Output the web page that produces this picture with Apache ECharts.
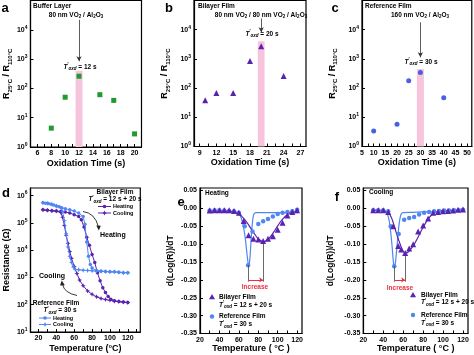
<!DOCTYPE html>
<html><head><meta charset="utf-8">
<script src="https://cdn.jsdelivr.net/npm/echarts@6.0.0/dist/echarts.min.js"></script>
<style>html,body{margin:0;padding:0;background:#fff}#c{width:474px;height:355px}</style>
</head><body><div id="c"></div>
<script>
// ---------------- data ----------------
// a: buffer layer
const aTime = [8, 10, 12, 15, 17, 20];
const aRatio = [4.4, 50, 260, 61, 39, 2.8];
// b: bilayer film
const bTime = [10, 12, 15, 18, 20, 24];
const bRatio = [38, 68, 68, 850, 2700, 260];
// c: reference film
const cTime = [10, 20, 25, 30, 40];
const cRatio = [3.4, 5.8, 180, 340, 47];

const aTicks = [6, 8, 10, 12, 14, 16, 18, 20];
const bTicks = [9, 12, 15, 18, 21, 24, 27];
const cTicks = [5, 10, 15, 20, 25, 30, 35, 40, 45, 50];
const tempTicks = [20, 40, 60, 80, 100, 120];
const derivTicks = [-0.35, -0.30, -0.25, -0.20, -0.15, -0.10, -0.05, 0.00, 0.05];

// highlighted optimum oxidation time: [from, to, bandTop], arrow [x, yStart, yEnd]
const aBand = [11.5, 12.5, 400];   const aArrow = [12, 22000, 850];
const bBand = [19.4, 20.6, 4000];  const bArrow = [20, 24000, 8100];
const cBand = [28.5, 31.5, 450];   const cArrow = [30, 17800, 1130];

// d: resistance vs temperature
const biHeatT = [25, 30, 35, 40, 45, 50, 55, 60, 65, 68, 71, 74, 77, 80, 83, 86, 89, 92, 95, 98, 101, 105, 110, 115, 120];
const biHeatR = [3.0e5, 2.9e5, 2.8e5, 2.7e5, 2.6e5, 2.5e5, 2.3e5, 2.0e5, 1.7e5, 1.3e5, 7e4, 3e4, 1.5e4, 7e3, 3.5e3, 1.5e3, 7.5e2, 4.2e2, 2.8e2, 2.0e2, 1.6e2, 1.4e2, 1.3e2, 1.25e2, 1.2e2];
const biCoolT = [120, 115, 110, 105, 100, 95, 90, 85, 80, 75, 70, 66, 63, 60, 57, 55, 53, 51, 49, 47, 45, 40, 35, 30, 25];
const biCoolR = [1.2e2, 1.25e2, 1.3e2, 1.35e2, 1.45e2, 1.55e2, 1.7e2, 1.95e2, 2.4e2, 3.2e2, 5e2, 8e2, 1.4e3, 2.5e3, 5e3, 9e3, 1.8e4, 3.5e4, 8e4, 1.6e5, 2.4e5, 2.7e5, 2.8e5, 2.9e5, 3.0e5];
const refHeatT = [25, 28, 31, 34, 37, 40, 43, 46, 50, 55, 60, 65, 70, 72, 74, 76, 78, 80, 85, 90, 95, 100, 105, 110, 115, 120];
const refHeatR = [5.5e5, 5.3e5, 5.1e5, 4.8e5, 4.5e5, 4.2e5, 3.9e5, 3.6e5, 3.3e5, 3.0e5, 2.7e5, 2.3e5, 1.7e5, 9e4, 2e4, 6e3, 3e3, 2.2e3, 1.8e3, 1.7e3, 1.65e3, 1.6e3, 1.6e3, 1.55e3, 1.5e3, 1.5e3];
const refCoolT = [120, 115, 110, 105, 100, 95, 90, 85, 80, 75, 70, 65, 61, 59, 57, 55, 53, 51, 49, 47, 45, 40, 35, 30, 25];
const refCoolR = [1.5e3, 1.5e3, 1.55e3, 1.6e3, 1.6e3, 1.65e3, 1.7e3, 1.7e3, 1.75e3, 1.8e3, 1.85e3, 1.9e3, 2.0e3, 2.4e3, 3.5e3, 6e3, 1.3e4, 4e4, 1.2e5, 2.6e5, 3.6e5, 4.2e5, 4.8e5, 5.2e5, 5.5e5];

// e: derivative, heating
const eBiT = [30, 35, 40, 45, 50, 55, 60, 65, 70, 75, 80, 85, 90, 95, 100, 105, 110, 115, 120];
const eBiV = [-0.006, -0.005, -0.005, -0.005, -0.005, -0.007, -0.012, -0.035, -0.075, -0.085, -0.087, -0.091, -0.085, -0.078, -0.060, -0.040, -0.020, -0.010, -0.005];
const eRefT = [30, 35, 40, 45, 50, 55, 60, 66, 69.5, 74, 80, 85, 90, 95, 100, 105, 110, 115, 120];
const eRefV = [-0.006, -0.005, -0.005, -0.006, -0.007, -0.008, -0.012, -0.050, -0.159, -0.065, -0.044, -0.036, -0.030, -0.023, -0.016, -0.012, -0.010, -0.008, -0.004];
const eBiFitT = [28, 35, 40, 45, 50, 55, 60, 65, 70, 75, 80, 85, 90, 95, 100, 105, 110, 115, 121];
const eBiFitV = [-0.007, -0.007, -0.007, -0.007, -0.008, -0.010, -0.016, -0.028, -0.046, -0.067, -0.085, -0.093, -0.087, -0.070, -0.049, -0.030, -0.017, -0.010, -0.008];
const eRefFitT = [28, 40, 50, 55, 58, 60, 62, 64, 66, 67, 68, 69, 70, 71, 72, 73, 74, 75, 76, 78, 80, 90, 100, 110, 121];
const eRefFitV = [-0.008, -0.008, -0.008, -0.009, -0.011, -0.015, -0.024, -0.042, -0.072, -0.093, -0.118, -0.142, -0.158, -0.150, -0.115, -0.072, -0.038, -0.020, -0.014, -0.012, -0.012, -0.012, -0.012, -0.012, -0.012];
const eMarks = [69.5, -0.159, 85, -0.093]; // minima used for the "Increase" marker

// f: derivative, cooling
const fBiT = [30, 35, 40, 45, 50, 55, 58, 62, 66, 70, 75, 80, 85, 90, 95, 100, 105, 110, 115, 120];
const fBiV = [-0.005, -0.005, -0.005, -0.010, -0.050, -0.105, -0.115, -0.125, -0.112, -0.100, -0.065, -0.048, -0.028, -0.012, -0.010, -0.008, -0.007, -0.006, -0.004, -0.003];
const fRefT = [30, 35, 40, 45, 47.5, 51, 55.5, 61, 66, 71, 76, 81, 86, 91, 96, 101, 106, 111, 116, 120];
const fRefV = [-0.005, -0.005, -0.005, -0.008, -0.050, -0.162, -0.072, -0.032, -0.027, -0.024, -0.017, -0.012, -0.010, -0.008, -0.007, -0.006, -0.006, -0.005, -0.005, -0.004];
const fBiFitT = [28, 35, 40, 45, 48, 50, 53, 55, 58, 60, 62, 65, 70, 75, 80, 85, 90, 95, 100, 110, 121];
const fBiFitV = [-0.005, -0.005, -0.006, -0.012, -0.025, -0.040, -0.068, -0.085, -0.108, -0.120, -0.125, -0.122, -0.105, -0.080, -0.053, -0.030, -0.015, -0.008, -0.006, -0.005, -0.005];
const fRefFitT = [28, 35, 40, 42, 44, 46, 47, 48, 49, 50, 51, 52, 53, 54, 55, 56, 57, 58, 60, 70, 80, 90, 100, 110, 121];
const fRefFitV = [-0.006, -0.006, -0.007, -0.009, -0.015, -0.035, -0.055, -0.080, -0.110, -0.145, -0.162, -0.155, -0.130, -0.100, -0.068, -0.042, -0.025, -0.016, -0.012, -0.011, -0.010, -0.010, -0.009, -0.008, -0.008];
const fMarks = [51, -0.162, 62, -0.125];

// ---------------- styling ----------------
const FONT = 'Liberation Sans, Arial, sans-serif';
const PURPLE = '#5a22b0';
const BLUE = '#4f86f2';
const GREEN = '#1f9a2e';
const PINK = '#f8c3dc';
const RED = '#e8313f';
const pts = (xs, ys) => xs.map((x, i) => [x, ys[i]]);
const STAR = 'path://M0,-10L3,-3L10,0L3,3L0,10L-3,3L-10,0L-3,-3Z';

function xAx(gi, o) {
  return Object.assign({
    type: 'value', gridIndex: gi,
    axisLine: {show: true, onZero: false, lineStyle: {color: '#000', width: 1.2}},
    axisTick: {show: true, inside: true, length: 3, lineStyle: {color: '#000', width: 1}, customValues: o.ticks},
    axisLabel: {color: '#000', fontSize: 7, fontWeight: 'bold', fontFamily: FONT, margin: 3, customValues: o.labels},
    splitLine: {show: false},
    nameLocation: 'middle', nameGap: o.gap,
    nameTextStyle: {color: '#000', fontSize: 9, fontWeight: 'bold', fontFamily: FONT}
  }, {min: o.min, max: o.max, name: o.name});
}
function yLog(gi, o) {
  return {
    type: 'log', logBase: 10, gridIndex: gi, min: o.min, max: o.max,
    axisLine: {show: true, lineStyle: {color: '#000', width: 1.2}},
    axisTick: {show: true, inside: true, length: 3, lineStyle: {color: '#000', width: 1}},
    axisLabel: {color: '#000', fontSize: 7, fontWeight: 'bold', fontFamily: FONT, margin: 3, showMaxLabel: false,
      lineHeight: 10,
      formatter: v => '10{s|' + Math.round(Math.log10(v)) + '}',
      rich: {s: {fontSize: 5, fontWeight: 'bold', fontFamily: FONT, verticalAlign: 'top'}}},
    splitLine: {show: false}, minorTick: {show: false},
    name: o.name, nameLocation: 'middle', nameGap: o.gap,
    nameTextStyle: {color: '#000', fontSize: 9, fontWeight: 'bold', fontFamily: FONT, lineHeight: 12,
      rich: {s: {fontSize: 6, fontWeight: 'bold', fontFamily: FONT, verticalAlign: 'bottom'}}}
  };
}
function yDer(gi, gap) {
  return {
    type: 'value', gridIndex: gi, min: -0.35, max: 0.057,
    axisLine: {show: true, lineStyle: {color: '#000', width: 1.2}},
    axisTick: {show: true, inside: true, length: 3, lineStyle: {color: '#000', width: 1}, customValues: derivTicks},
    axisLabel: {color: '#000', fontSize: 7, fontWeight: 'bold', fontFamily: FONT, margin: 3, customValues: derivTicks,
      formatter: v => v.toFixed(2)},
    splitLine: {show: false},
    name: 'd(Log(R))/dT', nameLocation: 'middle', nameGap: gap,
    nameTextStyle: {color: '#000', fontSize: 8.5, fontWeight: 'bold', fontFamily: FONT}
  };
}
const gridBase = {show: true, borderColor: '#000', borderWidth: 1.2, backgroundColor: 'transparent', containLabel: false};

const rName = 'R{s|25°C} / R{s|110°C}';

function bandSeries(idx, band, arrow) {
  return {
    type: 'line', xAxisIndex: idx, yAxisIndex: idx, data: [], silent: true, z: 1,
    markArea: {silent: true, itemStyle: {color: PINK, opacity: 1},
      data: [[{xAxis: band[0], yAxis: 1}, {xAxis: band[1], yAxis: band[2]}]]},
    markLine: {silent: true, symbol: ['none', 'arrow'], symbolSize: [4, 5], label: {show: false},
      lineStyle: {color: '#333', width: 0.8, type: 'solid'},
      data: [[{coord: [arrow[0], arrow[1]]}, {coord: [arrow[0], arrow[2]]}]]}
  };
}
function increaseSeries(idx, m) {
  const ls = {color: '#444', width: 0.8, type: 'solid'};
  return {
    type: 'line', xAxisIndex: idx, yAxisIndex: idx, data: [], silent: true, z: 1,
    markLine: {silent: true, label: {show: false}, symbol: 'none', animation: false,
      data: [
        [{coord: [m[0], m[1]], lineStyle: ls, symbol: 'none'}, {coord: [m[0], -0.205], symbol: 'none'}],
        [{coord: [m[2], m[3]], lineStyle: ls, symbol: 'none'}, {coord: [m[2], -0.205], symbol: 'none'}],
        [{coord: [m[0], -0.2], lineStyle: {color: RED, width: 1, type: 'solid'}, symbol: 'none'},
         {coord: [m[2], -0.2], symbol: 'arrow', symbolSize: [4, 4]}]
      ]}
  };
}

// ---------------- text helpers ----------------
const subRich = {
  n: {fontSize: 6.5, fontWeight: 'bold', fontFamily: FONT, lineHeight: 9, verticalAlign: 'middle'},
  s: {fontSize: 4.5, fontWeight: 'bold', fontFamily: FONT, verticalAlign: 'bottom'},
  i: {fontSize: 6.5, fontWeight: 'bold', fontStyle: 'italic', fontFamily: FONT, lineHeight: 9, verticalAlign: 'middle'},
  p: {fontSize: 4.5, fontWeight: 'bold', fontFamily: FONT, verticalAlign: 'top'},
  q: {fontSize: 4.5, fontWeight: 'bold', fontStyle: 'italic', fontFamily: FONT, verticalAlign: 'bottom'}
};
function txt(x, y, text, opt) {
  opt = opt || {};
  return {type: 'text', x: x, y: y, z: 100, silent: true,
    style: {text: text, fill: opt.fill || '#000', align: opt.align || 'center', verticalAlign: 'middle',
      fontSize: opt.size || 6.5, fontWeight: opt.weight || 'bold', fontFamily: FONT,
      fontStyle: opt.style || 'normal', rich: subRich}};
}
const toxd = s => '{i|T}{p|′}{q|oxd}{n| = ' + s + '}';

function legLine(x1, x2, y, color, symbol) {
  const cx = (x1 + x2) / 2;
  const els = [{type: 'line', z: 100, silent: true, shape: {x1: x1, y1: y, x2: x2, y2: y}, style: {stroke: color, lineWidth: 1}}];
  if (symbol === 'circle') els.push({type: 'circle', z: 101, silent: true, shape: {cx: cx, cy: y, r: 1.8}, style: {fill: color}});
  else els.push({type: 'polygon', z: 101, silent: true, shape: {points: [[cx, y - 2.5], [cx + 0.8, y - 0.8], [cx + 2.5, y], [cx + 0.8, y + 0.8], [cx, y + 2.5], [cx - 0.8, y + 0.8], [cx - 2.5, y], [cx - 0.8, y - 0.8]]}, style: {fill: color}});
  return els;
}
function tri(x, y, color) {
  return {type: 'polygon', z: 100, silent: true, shape: {points: [[x, y - 3], [x + 3, y + 2.2], [x - 3, y + 2.2]]}, style: {fill: color}};
}
function dot(x, y, color) {
  return {type: 'circle', z: 100, silent: true, shape: {cx: x, cy: y, r: 2.2}, style: {fill: color}};
}

const graphics = [
  // panel letters
  txt(5, 8, 'a', {size: 13}), txt(169, 8, 'b', {size: 13}), txt(335, 8, 'c', {size: 13}),
  txt(6, 193, 'd', {size: 13}), txt(181, 202, 'e', {size: 13}), txt(337, 197, 'f', {size: 13}),
  // a
  txt(33, 6, 'Buffer Layer', {align: 'left'}),
  txt(76, 15, '{n|80 nm VO}{s|2}{n| / Al}{s|2}{n|O}{s|3}'),
  txt(80, 67, toxd('12 s')),
  // b
  txt(198, 6, 'Bilayer Film', {align: 'left'}),
  txt(261, 15, '{n|80 nm VO}{s|2}{n| / 80 nm VO}{s|2}{n| / Al}{s|2}{n|O}{s|3}'),
  txt(262, 34, toxd('20 s')),
  // c
  txt(365, 6, 'Reference Film', {align: 'left'}),
  txt(420, 15, '{n|160 nm VO}{s|2}{n| / Al}{s|2}{n|O}{s|3}'),
  txt(421, 62, toxd('30 s')),
  // d
  txt(115, 192, 'Bilayer Film'),
  txt(115, 199.5, toxd('12 s + 20 s')),
  ...legLine(98, 111, 206.5, PURPLE, 'circle'), txt(113, 206.5, 'Heating', {align: 'left', size: 5.5}),
  ...legLine(98, 111, 213, PURPLE, 'star'), txt(113, 213, 'Cooling', {align: 'left', size: 5.5}),
  txt(100, 235, 'Heating', {align: 'left', size: 7}),
  {type: 'bezierCurve', z: 100, silent: true, shape: {x1: 83, y1: 211.5, x2: 98.5, y2: 227, cpx1: 95, cpy1: 213}, style: {stroke: '#222', lineWidth: 0.9, fill: 'none'}},
  {type: 'polygon', z: 100, silent: true, shape: {points: [[96.3, 225.5], [100.8, 225.8], [98.8, 230.5]]}, style: {fill: '#222'}},
  txt(39, 276, 'Cooling', {align: 'left', size: 7}),
  {type: 'bezierCurve', z: 100, silent: true, shape: {x1: 77, y1: 295.5, x2: 62.5, y2: 284, cpx1: 64, cpy1: 293}, style: {stroke: '#222', lineWidth: 0.9, fill: 'none'}},
  {type: 'polygon', z: 100, silent: true, shape: {points: [[60, 285.5], [64.8, 285.3], [61.8, 280.5]]}, style: {fill: '#222'}},
  txt(56, 303, 'Reference Film'),
  txt(60, 310.5, toxd('30 s')),
  ...legLine(39, 51, 318, BLUE, 'circle'), txt(53, 318, 'Heating', {align: 'left', size: 5.5}),
  ...legLine(39, 51, 324.5, BLUE, 'star'), txt(53, 324.5, 'Cooling', {align: 'left', size: 5.5}),
  // e
  txt(205, 193, 'Heating', {align: 'left'}),
  tri(212, 297, PURPLE), txt(219, 297, 'Bilayer Film', {align: 'left'}),
  txt(219, 305, toxd('12 s + 20 s'), {align: 'left'}),
  dot(212, 316.5, BLUE), txt(219, 316.5, 'Reference Film', {align: 'left'}),
  txt(219, 324.5, toxd('30 s'), {align: 'left'}),
  txt(255, 287.5, 'Increase', {fill: RED}),
  // f
  txt(369, 192, 'Cooling', {align: 'left'}),
  tri(413, 295, PURPLE), txt(421, 295, 'Bilayer Film', {align: 'left'}),
  txt(421, 302.5, toxd('12 s + 20 s'), {align: 'left'}),
  dot(413, 315, BLUE), txt(421, 315, 'Reference Film', {align: 'left'}),
  txt(421, 323, toxd('30 s'), {align: 'left'}),
  txt(400, 288, 'Increase', {fill: RED})
];

const range = (a, b, s) => { const r = []; for (let v = a; v <= b + 1e-9; v += s) r.push(+v.toFixed(3)); return r; };

const option = {
  animation: false,
  backgroundColor: '#fff',
  textStyle: {fontFamily: FONT},
  grid: [
    Object.assign({left: 29, top: 0.5, width: 112.5, height: 146.5}, gridBase),
    Object.assign({left: 194, top: 0.5, width: 112, height: 146}, gridBase),
    Object.assign({left: 362, top: 0.5, width: 110, height: 146}, gridBase),
    Object.assign({left: 28.3, top: 188, width: 112, height: 144}, gridBase),
    Object.assign({left: 200, top: 188, width: 102, height: 145.5}, gridBase),
    Object.assign({left: 363.3, top: 188, width: 104.7, height: 145.5}, gridBase)
  ],
  xAxis: [
    xAx(0, {min: 5, max: 21, labels: aTicks, ticks: range(6, 20, 1), name: 'Oxidation Time (s)', gap: 12}),
    xAx(1, {min: 8, max: 28, labels: bTicks, ticks: range(9, 27, 1.5), name: 'Oxidation Time (s)', gap: 12}),
    xAx(2, {min: 5, max: 52, labels: cTicks, ticks: range(5, 50, 2.5), name: 'Oxidation Time (s)', gap: 12}),
    xAx(3, {min: 11, max: 134, labels: tempTicks, ticks: range(20, 130, 10), name: 'Temperature (°C)', gap: 12}),
    xAx(4, {min: 20, max: 125, labels: tempTicks, ticks: range(20, 120, 10), name: 'Temperature ( °C )', gap: 10.5}),
    xAx(5, {min: 20, max: 125, labels: tempTicks, ticks: range(20, 120, 10), name: 'Temperature ( °C )', gap: 10.5})
  ],
  yAxis: [
    yLog(0, {min: 1, max: 1e5, name: rName, gap: 17}),
    yLog(1, {min: 1, max: 1e5, name: rName, gap: 23}),
    yLog(2, {min: 1, max: 1e5, name: rName, gap: 23.5}),
    yLog(3, {min: 10, max: 1.9e6, name: 'Resistance (Ω)', gap: 16.5}),
    yDer(4, 25),
    yDer(5, 28)
  ],
  series: [
    bandSeries(0, aBand, aArrow),
    {type: 'scatter', xAxisIndex: 0, yAxisIndex: 0, data: pts(aTime, aRatio), symbol: 'rect', symbolSize: 5, itemStyle: {color: GREEN, opacity: 1}, z: 5},
    bandSeries(1, bBand, bArrow),
    {type: 'scatter', xAxisIndex: 1, yAxisIndex: 1, data: pts(bTime, bRatio), symbol: 'triangle', symbolSize: 6, itemStyle: {color: PURPLE, opacity: 1}, z: 5},
    bandSeries(2, cBand, cArrow),
    {type: 'scatter', xAxisIndex: 2, yAxisIndex: 2, data: pts(cTime, cRatio), symbol: 'circle', symbolSize: 5, itemStyle: {color: '#4a5fe2', opacity: 1}, z: 5},
    // d
    {type: 'line', xAxisIndex: 3, yAxisIndex: 3, data: pts(biHeatT, biHeatR), symbol: 'circle', symbolSize: 3.5, showAllSymbol: true,
      lineStyle: {color: PURPLE, width: 1}, itemStyle: {color: PURPLE}, z: 3},
    {type: 'line', xAxisIndex: 3, yAxisIndex: 3, data: pts(biCoolT, biCoolR), symbol: STAR, symbolSize: 5, showAllSymbol: true,
      lineStyle: {color: PURPLE, width: 1}, itemStyle: {color: PURPLE}, z: 3},
    {type: 'line', xAxisIndex: 3, yAxisIndex: 3, data: pts(refHeatT, refHeatR), symbol: 'circle', symbolSize: 3.5, showAllSymbol: true,
      lineStyle: {color: BLUE, width: 1}, itemStyle: {color: BLUE}, z: 4},
    {type: 'line', xAxisIndex: 3, yAxisIndex: 3, data: pts(refCoolT, refCoolR), symbol: STAR, symbolSize: 5, showAllSymbol: true,
      lineStyle: {color: BLUE, width: 1}, itemStyle: {color: BLUE}, z: 4},
    // e
    increaseSeries(4, eMarks),
    {type: 'line', xAxisIndex: 4, yAxisIndex: 4, data: pts(eRefFitT, eRefFitV), smooth: 0.4, showSymbol: false, lineStyle: {color: BLUE, width: 1.2}, z: 3},
    {type: 'line', xAxisIndex: 4, yAxisIndex: 4, data: pts(eBiFitT, eBiFitV), smooth: 0.4, showSymbol: false, lineStyle: {color: PURPLE, width: 1.2}, z: 3},
    {type: 'scatter', xAxisIndex: 4, yAxisIndex: 4, data: pts(eRefT, eRefV), symbol: 'circle', symbolSize: 4.5, itemStyle: {color: BLUE, opacity: 1}, z: 4},
    {type: 'scatter', xAxisIndex: 4, yAxisIndex: 4, data: pts(eBiT, eBiV), symbol: 'triangle', symbolSize: 6, itemStyle: {color: PURPLE, opacity: 1}, z: 5},
    // f
    increaseSeries(5, fMarks),
    {type: 'line', xAxisIndex: 5, yAxisIndex: 5, data: pts(fRefFitT, fRefFitV), smooth: 0.4, showSymbol: false, lineStyle: {color: BLUE, width: 1.2}, z: 3},
    {type: 'line', xAxisIndex: 5, yAxisIndex: 5, data: pts(fBiFitT, fBiFitV), smooth: 0.4, showSymbol: false, lineStyle: {color: PURPLE, width: 1.2}, z: 3},
    {type: 'scatter', xAxisIndex: 5, yAxisIndex: 5, data: pts(fRefT, fRefV), symbol: 'circle', symbolSize: 4.5, itemStyle: {color: BLUE, opacity: 1}, z: 4},
    {type: 'scatter', xAxisIndex: 5, yAxisIndex: 5, data: pts(fBiT, fBiV), symbol: 'triangle', symbolSize: 6, itemStyle: {color: PURPLE, opacity: 1}, z: 5}
  ],
  graphic: graphics
};

const chart = echarts.init(document.getElementById('c'), null, {renderer: 'canvas'});
chart.setOption(option);
</script>
</body></html>
